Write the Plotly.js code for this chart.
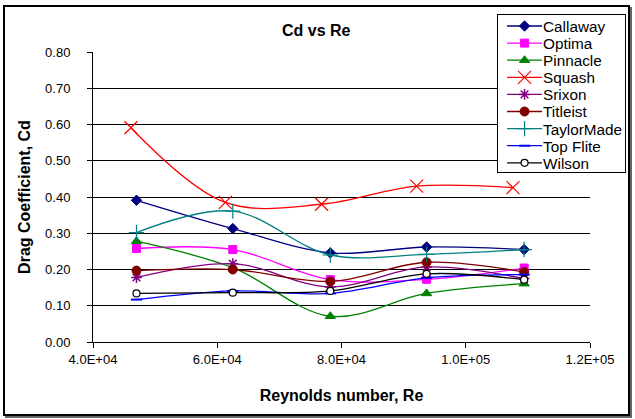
<!DOCTYPE html>
<html>
<head>
<meta charset="utf-8">
<script src="https://cdn.plot.ly/plotly-3.0.1.min.js"></script>
<style>
  html, body { margin: 0; padding: 0; background: #fff; }
  #wrap { position: relative; width: 635px; height: 419px; overflow: hidden; }
  #chart { position: absolute; left: 0; top: 0; width: 635px; height: 419px; }
  #frame { position: absolute; left: 3px; top: 5px; width: 623px; height: 407px;
           border: 2px solid #000; box-shadow: 2px 2px 0 #666; pointer-events: none; }
</style>
</head>
<body>
<div id="wrap"><div id="chart"></div><div id="frame"></div></div>
<script>
// Reynolds numbers (most balls) and Squash ball
const reBalls  = [47000, 62500, 78200, 93700, 109400];
const reSquash = [46100, 61300, 76800, 92100, 107600];

const callaway   = [0.391, 0.313, 0.246, 0.262, 0.255];
const optima     = [0.258, 0.255, 0.172, 0.173, 0.204];
const pinnacle   = [0.278, 0.205, 0.071, 0.134, 0.161];
const squash     = [0.591, 0.385, 0.380, 0.430, 0.426];
const srixon     = [0.178, 0.216, 0.152, 0.207, 0.175];
const titleist   = [0.197, 0.200, 0.167, 0.220, 0.193];
const taylormade = [0.302, 0.361, 0.240, 0.242, 0.255];
const topflite   = [0.117, 0.141, 0.134, 0.177, 0.186];
const wilson     = [0.134, 0.136, 0.141, 0.188, 0.172];

const xTickVals  = [40000, 60000, 80000, 100000, 120000];
const xTickText  = ["4.0E+04", "6.0E+04", "8.0E+04", "1.0E+05", "1.2E+05"];

function tr(name, x, y, color, symbol, msize, extra) {
  const t = {
    type: 'scatter', mode: 'lines+markers', name: name, x: x, y: y,
    line: { color: color, width: 1.3, shape: 'spline', smoothing: 1 },
    marker: { color: color, symbol: symbol, size: msize, line: { color: color, width: 1 } },
    hoverinfo: 'skip'
  };
  if (extra) Object.assign(t.marker, extra);
  return t;
}

const data = [
  tr('Callaway', reBalls, callaway, '#000080', 'diamond', 8),
  tr('Optima', reBalls, optima, '#FF00FF', 'square', 8),
  tr('Pinnacle', reBalls, pinnacle, '#008000', 'triangle-up', 9),
  tr('Squash', reSquash, squash, '#FF0000', 'x-thin-open', 13, { line: { color: '#FF0000', width: 1.2 } }),
  tr('Srixon', reBalls, srixon, '#800080', 'asterisk-open', 9, { line: { color: '#800080', width: 1.5 } }),
  tr('Titleist', reBalls, titleist, '#800000', 'circle', 9),
  tr('TaylorMade', reBalls, taylormade, '#008080', 'cross-thin-open', 11, { line: { color: '#008080', width: 1.2 } }),
  tr('Top Flite', reBalls, topflite, '#0000FF', 'line-ew-open', 8, { line: { color: '#0000FF', width: 2 } }),
  tr('Wilson', reBalls, wilson, '#000000', 'circle', 7, { color: '#ffffff', line: { color: '#000000', width: 1.2 } })
];

const layout = {
  width: 635, height: 419,
  margin: { l: 93, r: 45, t: 52, b: 77, pad: 0, autoexpand: false },
  paper_bgcolor: '#ffffff', plot_bgcolor: '#ffffff',
  font: { family: 'Liberation Sans, Arial, sans-serif', size: 13, color: '#000' },
  showlegend: true,
  title: { text: '<b>Cd vs Re</b>', font: { size: 16 }, x: 0.498, xanchor: 'center', y: 0.928, yanchor: 'middle' },
  xaxis: {
    range: [40000, 120000], tickvals: xTickVals, ticktext: xTickText,
    showgrid: false, zeroline: false, showline: true, linecolor: '#000', linewidth: 1,
    ticks: 'outside', ticklen: 5, tickcolor: '#000',
    title: { text: '<b>Reynolds number, Re</b>', font: { size: 16 }, standoff: 24 },
    fixedrange: true
  },
  yaxis: {
    range: [0, 0.8], dtick: 0.1, tickformat: '.2f',
    showgrid: true, gridcolor: '#000', gridwidth: 1, zeroline: false,
    showline: true, linecolor: '#000', linewidth: 1,
    ticks: 'outside', ticklen: 5, tickcolor: '#000', ticklabelstandoff: 14,
    title: { text: '<b>Drag Coefficient, Cd</b>', font: { size: 16 }, standoff: 10 },
    fixedrange: true
  },
  legend: {
    x: 0.813, y: 1.131, xanchor: 'left', yanchor: 'top',
    bgcolor: '#ffffff', bordercolor: '#000', borderwidth: 1,
    font: { size: 15.3 }, tracegroupgap: 0, itemwidth: 35
  }
};

Plotly.newPlot('chart', data, layout, { staticPlot: true, displayModeBar: false }).then(function () {
  // tighten legend row spacing / box size to match the reference
  const spacing = 17.1, firstY = 12, boxH = 158, boxW = 128;
  const items = document.querySelectorAll('#chart .legend .traces');
  items.forEach(function (g, i) {
    const m = /translate\(\s*([-\d.]+)[ ,]+([-\d.]+)\s*\)/.exec(g.getAttribute('transform') || '');
    const x = m ? parseFloat(m[1]) : 1;
    g.setAttribute('transform', 'translate(' + x + ',' + (firstY + i * spacing) + ')');
    const layers = g.querySelector('g.layers');
    if (layers) layers.setAttribute('transform', 'translate(4,0)');
  });
  const bg = document.querySelector('#chart .legend rect.bg');
  if (bg) { bg.setAttribute('height', boxH); bg.setAttribute('width', boxW); }
  document.querySelectorAll('#chart .legend clipPath rect, #chart defs clipPath[id*="legend"] rect').forEach(function (r) {
    r.setAttribute('height', boxH); r.setAttribute('width', boxW);
  });
});
</script>
</body>
</html>
